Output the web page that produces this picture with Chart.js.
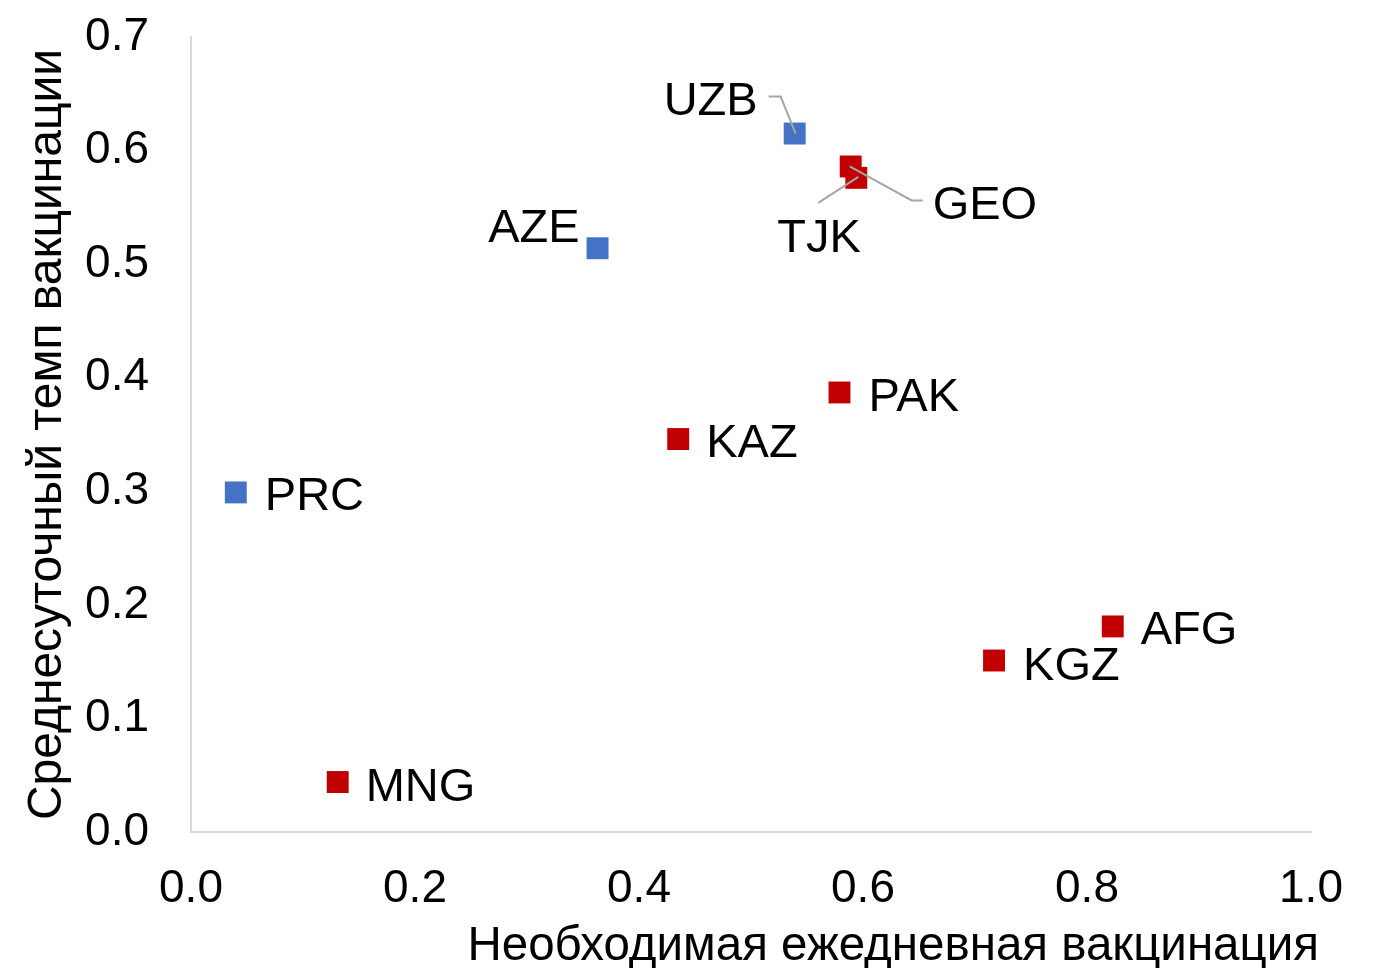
<!DOCTYPE html>
<html>
<head>
<meta charset="utf-8">
<script src="https://cdn.jsdelivr.net/npm/chart.js@4/dist/chart.umd.min.js"></script>
<style>
  html, body { margin: 0; padding: 0; background: #fff; }
  #wrap { width: 1385px; height: 968px; }
</style>
</head>
<body>
<div id="wrap"><canvas id="vacChart" width="1385" height="968"></canvas></div>
<script>
// Данные: две группы стран
const blueNames = ['PRC', 'AZE', 'UZB'];
const blueX = [0.040, 0.363, 0.539];
const blueY = [0.299, 0.514, 0.615];

const redNames = ['MNG', 'KAZ', 'PAK', 'GEO', 'TJK', 'KGZ', 'AFG'];
const redX = [0.131, 0.435, 0.579, 0.589, 0.594, 0.717, 0.823];
const redY = [0.044, 0.346, 0.387, 0.586, 0.576, 0.151, 0.181];

const xTicks = [0, 0.2, 0.4, 0.6, 0.8, 1.0];
const yTicks = [0, 0.1, 0.2, 0.3, 0.4, 0.5, 0.6, 0.7];

const xTitle = 'Необходимая ежедневная вакцинация';
const yTitle = 'Среднесуточный темп вакцинации';

// Размещение подписей (смещение в пикселях от точки) и выноски
const labelPlace = {
    PRC: { dx: 29, dy: 1, align: 'left' },
    AZE: { dx: -18, dy: -23, align: 'right' },
    UZB: { dx: -37, dy: -36, align: 'right', leader: [[-26, -37], [-14, -37], [1, 0]] },
    MNG: { dx: 28, dy: 2, align: 'left' },
    KAZ: { dx: 28, dy: 1, align: 'left' },
    PAK: { dx: 29, dy: 2, align: 'left' },
    GEO: { dx: 82, dy: 36, align: 'left', leader: [[-1, 0], [61, 34], [72, 34]] },
    TJK: { dx: -79, dy: 57, align: 'left', leader: [[2, -1], [-38, 25]] },
    KGZ: { dx: 29, dy: 2, align: 'left' },
    AFG: { dx: 28, dy: 1, align: 'left' }
};

const FONT = '"Liberation Sans", Arial, sans-serif';

const toPoints = (xs, ys) => xs.map((x, i) => ({ x: x, y: ys[i] }));

// Подписи точек с выносками + заголовок оси X
const pointLabels = {
    id: 'pointLabels',
    afterDatasetsDraw(chart) {
        const ctx = chart.ctx;
        const names = [blueNames, redNames];
        ctx.save();
        names.forEach((list, di) => {
            const meta = chart.getDatasetMeta(di);
            list.forEach((name, i) => {
                const el = meta.data[i];
                const p = labelPlace[name];
                if (p.leader) {
                    ctx.strokeStyle = '#A6A6A6';
                    ctx.lineWidth = 2;
                    ctx.beginPath();
                    p.leader.forEach((pt, k) => {
                        if (k === 0) ctx.moveTo(el.x + pt[0], el.y + pt[1]);
                        else ctx.lineTo(el.x + pt[0], el.y + pt[1]);
                    });
                    ctx.stroke();
                }
                ctx.font = '47px ' + FONT;
                ctx.fillStyle = '#000';
                ctx.textAlign = p.align;
                ctx.textBaseline = 'alphabetic';
                ctx.fillText(name, el.x + p.dx, el.y + p.dy + 17);
            });
        });

        // заголовок оси X, прижат вправо
        const area = chart.chartArea;
        ctx.font = '47.5px ' + FONT;
        ctx.textAlign = 'right';
        ctx.textBaseline = 'alphabetic';
        ctx.fillText(xTitle, area.right + 8, 960);
        ctx.restore();
    }
};

const ctx1 = document.getElementById('vacChart').getContext('2d');
new Chart(ctx1, {
    type: 'scatter',
    data: {
        datasets: [
            {
                label: 'blue',
                data: toPoints(blueX, blueY),
                backgroundColor: '#4472C4',
                borderColor: '#4472C4',
                borderWidth: 0,
                pointStyle: 'rect',
                pointRadius: 15.5,
                pointHoverRadius: 15.5
            },
            {
                label: 'red',
                data: toPoints(redX, redY),
                backgroundColor: '#C00000',
                borderColor: '#C00000',
                borderWidth: 0,
                pointStyle: 'rect',
                pointRadius: 15.5,
                pointHoverRadius: 15.5
            }
        ]
    },
    options: {
        responsive: false,
        animation: false,
        layout: { padding: { left: 0, right: 74, top: 37, bottom: 0 } },
        plugins: {
            legend: { display: false },
            tooltip: { enabled: false }
        },
        scales: {
            x: {
                type: 'linear',
                min: 0,
                max: 1,
                afterBuildTicks: (s) => { s.ticks = xTicks.map(v => ({ value: v })); },
                afterFit: (s) => { s.height = 136; s.paddingLeft = 0; s.paddingRight = 0; },
                grid: { display: false },
                border: { color: '#D9D9D9', width: 2 },
                ticks: {
                    color: '#000',
                    padding: 22,
                    font: { family: FONT, size: 46 },
                    callback: (v) => Number(v).toFixed(1)
                }
            },
            y: {
                type: 'linear',
                min: 0,
                max: 0.7,
                afterBuildTicks: (s) => { s.ticks = yTicks.map(v => ({ value: v })); },
                afterFit: (s) => { s.width = 191; s.paddingTop = 0; s.paddingBottom = 0; },
                grid: { display: false },
                border: { color: '#D9D9D9', width: 2 },
                ticks: {
                    color: '#000',
                    padding: 34,
                    font: { family: FONT, size: 46 },
                    callback: (v) => Number(v).toFixed(1)
                },
                title: {
                    display: true,
                    text: yTitle,
                    color: '#000',
                    font: { family: FONT, size: 48, lineHeight: 1.2 },
                    padding: { top: 19, bottom: 0 }
                }
            }
        }
    },
    plugins: [pointLabels]
});
</script>
</body>
</html>
